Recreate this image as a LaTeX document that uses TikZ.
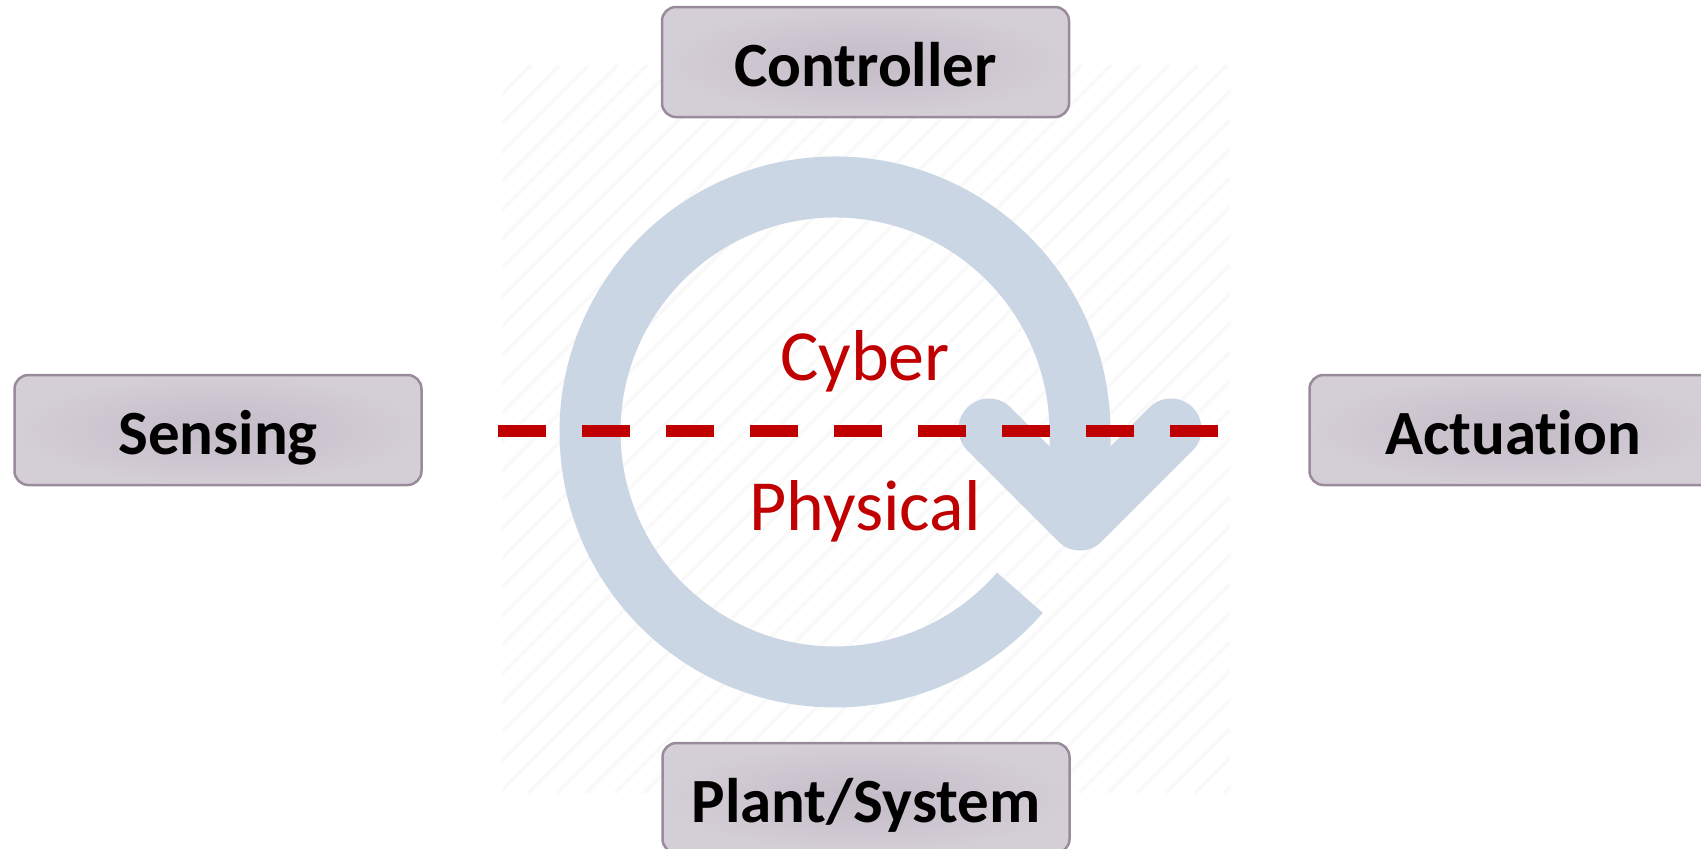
\documentclass[tikz,border=0pt]{standalone}
\usepackage{fontspec}
\setmainfont{Carlito}[Ligatures=NoCommon]
\definecolor{ringblue}{RGB}{202,214,228}
\definecolor{hatchgray}{RGB}{249,249,250}
\definecolor{cpsred}{RGB}{192,0,0}
\definecolor{boxin}{RGB}{196,188,199}
\definecolor{boxout}{RGB}{212,206,215}
\definecolor{boxborder}{RGB}{153,139,155}
\tikzset{
  hatchline/.style={draw=hatchgray, line width=3.5},
  ring/.style={draw=ringblue, line width=61},
  chevron/.style={draw=ringblue, line width=61, line cap=round, line join=round},
  redline/.style={draw=cpsred, line width=12, dash pattern=on 48 off 36},
  redtext/.style={text=cpsred, font=\fontsize{72}{80}\selectfont, inner sep=0},
  stagebox/.style={draw=boxborder, line width=2.5, rounded corners=14,
    inner color=boxin, outer color=boxout,
    minimum width=407, minimum height=110, inner sep=0,
    font=\bfseries\fontsize{63}{70}\selectfont, text height=49, text depth=0}
}
\begin{document}
\begin{tikzpicture}[x=1pt,y=-1pt]
\useasboundingbox (0,0) rectangle (1701,849);
\fill[white] (0,0) rectangle (1701,849);
% faint hatched background of the icon
\begin{scope}
  \clip (502,65) rectangle (1230,793);
  \foreach \x in {502,531,...,1990} {
    \draw[hatchline] (\x,65) -- (\x-728,793);
  }
\end{scope}
% circular arrow
\coordinate (c) at (835,432);
\coordinate (arcstart) at (1019.9,592.7);
\coordinate (tip) at (1080,520);
\coordinate (armL) at (989,429);
\coordinate (armR) at (1171,429);
\draw[ring] (arcstart) arc[start angle=41, end angle=360, radius=245] -- (tip);
\draw[chevron] (armL) -- (tip) -- (armR);
% cyber/physical divide
\coordinate (dl) at (498,431);
\coordinate (dr) at (1218,431);
\draw[redline] (dl) -- (dr);
\node[redtext, anchor=base] (cyber) at (865,380) {Cyber};
\node[redtext, anchor=base] (physical) at (865,530) {Physical};
% boxes
\node[stagebox] (controller) at (865.5,62) {Controller};
\node[stagebox] (sensing) at (218,430) {Sensing};
\node[stagebox] (actuation) at (1513,430) {Actuation};
\node[stagebox] (plant) at (866,798) {Plant/System};
\end{tikzpicture}
\end{document}
